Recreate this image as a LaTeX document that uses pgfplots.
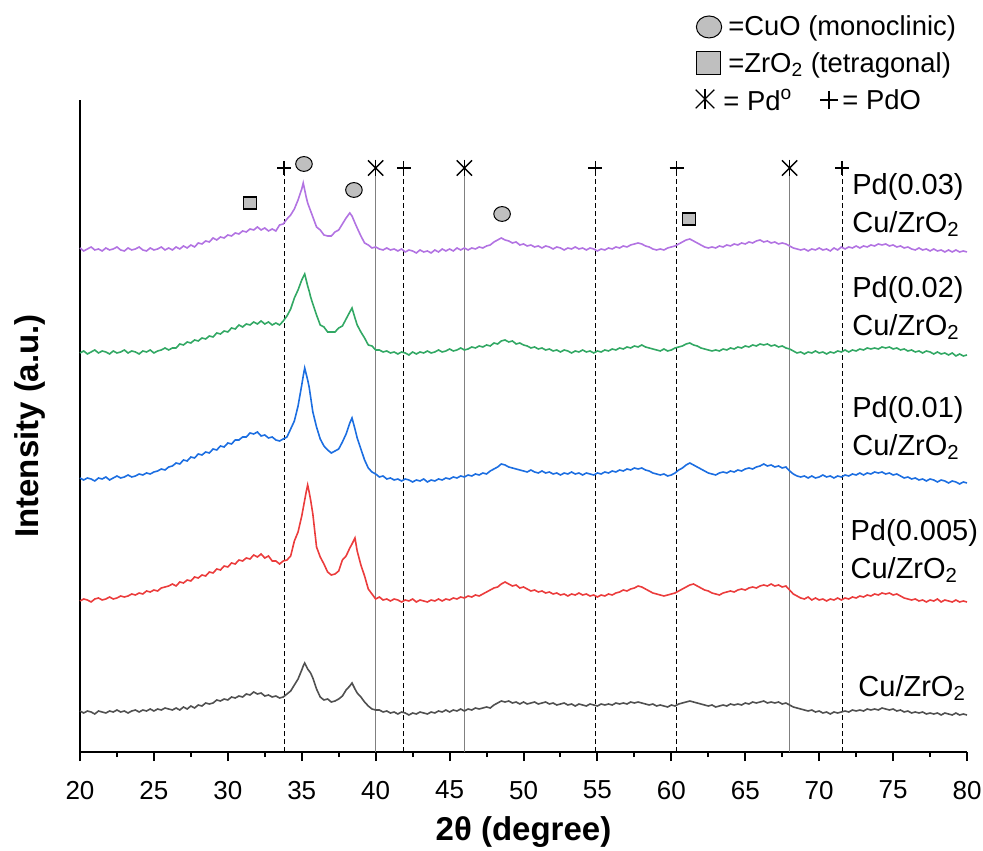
\documentclass[border=0pt]{standalone}
\usepackage{pgfplots}
\usepackage{pgfplotstable}
\pgfplotsset{compat=1.18}
\usepackage{fontspec}
\setmainfont{Liberation Sans}

\definecolor{cpur}{RGB}{178,115,226}
\definecolor{cgrn}{RGB}{50,168,100}
\definecolor{cblu}{RGB}{28,110,225}
\definecolor{cred}{RGB}{235,60,60}
\definecolor{cgry}{RGB}{80,80,80}

% intensities, stacked with offsets
\pgfplotstableread{
x P G B R K
20.00 504 399 274 151 41
20.25 501 401 272 153 39
20.50 503 398 274 152 41
20.75 505 400 273 150 40
21.00 502 402 271 153 38
21.25 503 399 274 154 41
21.50 501 401 273 152 40
21.75 504 400 275 153 39
22.00 502 398 272 155 41
22.25 503 401 274 153 40
22.50 505 399 276 154 42
22.75 502 400 274 156 40
23.00 501 402 275 155 41
23.25 504 399 277 156 39
23.50 502 401 275 158 41
23.75 503 400 276 157 42
24.00 505 398 278 159 40
24.25 502 401 277 158 42
24.50 501 400 279 161 41
24.75 504 402 278 160 43
25.00 502 399 280 162 41
25.25 503 401 281 161 43
25.50 505 402 283 164 42
25.75 502 404 282 165 44
26.00 504 402 285 166 43
26.25 502 404 286 168 42
26.50 505 404 289 166 44
26.75 503 408 288 170 42
27.00 506 407 292 169 45
27.25 504 410 291 172 43
27.50 507 409 295 171 46
27.75 505 412 294 175 44
28.00 509 411 298 174 47
28.25 508 414 297 177 46
28.50 511 413 300 176 49
28.75 510 416 299 180 48
29.00 514 415 303 179 49
29.25 512 419 302 183 52
29.50 515 418 306 182 51
29.75 514 421 305 186 53
30.00 517 420 309 185 52
30.25 516 424 308 189 55
30.50 519 423 312 188 54
30.75 518 427 312 192 56
31.00 521 425 315 191 55
31.25 520 428 315 194 58
31.50 523 427 319 193 57
31.75 522 430 318 197 60
32.00 525 428 320 195 58
32.25 522 431 316 198 59
32.50 524 428 317 194 56
32.75 521 430 314 196 57
33.00 523 427 315 191 55
33.25 521 429 312 191 56
33.50 527 427 311 188 54
33.75 528 431 313 191 55
34.00 533 436 315 192 58
34.25 537 443 323 196 61
34.50 543 454 331 211 67
34.75 552 462 346 220 73
35.00 563 472 367 236 82
35.10 569 475 376 244 86
35.20 562 478 384 252 89
35.30 555 472 378 260 86
35.40 549 466 372 267 83
35.50 545 461 365 260 81
35.60 541 455 355 252 79
35.75 535 448 340 238 74
36.00 525 437 325 205 63
36.25 522 427 313 195 55
36.50 517 425 306 188 52
36.75 516 420 302 180 53
37.00 516 420 299 177 50
37.25 520 420 301 178 51
37.50 522 424 303 181 53
37.75 528 426 310 192 56
38.00 534 433 318 196 62
38.25 539 440 329 204 66
38.40 536 444 334 208 69
38.60 529 434 323 214 63
38.75 524 427 314 201 59
39.00 516 420 303 187 55
39.25 509 414 292 176 50
39.50 507 407 284 163 46
39.75 504 406 280 158 43
40.00 505 402 278 153 42
40.25 503 402 275 155 42
40.50 502 400 276 152 40
40.75 504 401 273 153 41
41.00 502 399 274 151 39
41.25 503 400 272 153 40
41.50 501 398 273 152 38
41.75 503 400 271 150 40
42.00 500 399 273 152 39
42.25 502 397 272 151 37
42.50 501 400 270 153 39
42.75 499 398 272 150 38
43.00 502 400 271 152 40
43.25 500 399 273 151 39
43.50 501 401 270 150 38
43.75 499 399 272 152 40
44.00 502 400 271 151 39
44.25 500 402 273 153 41
44.50 503 400 272 151 40
44.75 501 401 274 153 42
45.00 503 403 273 152 40
45.25 501 401 275 154 42
45.50 504 402 274 153 41
45.75 502 404 276 155 43
46.00 504 402 275 154 41
46.25 502 403 277 156 43
46.50 504 405 276 155 42
46.75 503 404 278 157 44
47.00 505 406 277 156 43
47.25 504 405 279 158 44
47.50 506 407 278 160 45
47.75 507 406 281 162 44
48.00 510 409 283 164 47
48.25 512 408 285 165 49
48.50 514 411 288 168 51
48.75 512 412 287 170 50
49.00 511 410 285 168 51
49.25 509 411 284 166 49
49.50 510 408 283 167 50
49.75 507 409 282 164 48
50.00 508 407 281 165 50
50.25 506 406 280 163 48
50.50 507 404 282 161 49
50.75 505 405 280 162 50
51.00 506 403 279 160 48
51.25 504 404 281 161 49
51.50 506 402 279 159 50
51.75 505 403 280 160 48
52.00 503 401 278 158 49
52.25 505 402 279 159 47
52.50 504 400 277 157 48
52.75 502 402 279 158 49
53.00 504 401 278 156 47
53.25 503 399 280 158 48
53.50 505 401 278 157 46
53.75 503 400 279 159 48
54.00 504 402 277 157 47
54.25 502 400 279 158 46
54.50 504 401 278 156 48
54.75 503 399 277 157 47
55.00 501 401 279 155 46
55.25 503 400 278 157 48
55.50 502 402 280 156 47
55.75 504 401 279 158 48
56.00 503 403 281 157 47
56.25 505 402 280 159 49
56.50 504 404 282 160 48
56.75 506 403 281 162 49
57.00 505 405 283 161 48
57.25 507 404 282 163 50
57.50 508 406 284 164 49
57.75 509 405 283 166 50
58.00 508 407 284 165 49
58.25 506 405 282 163 48
58.50 505 404 281 161 47
58.75 503 403 279 159 48
59.00 502 402 278 158 46
59.25 503 401 277 157 47
59.50 502 403 278 156 46
59.75 504 401 276 157 45
60.00 505 402 277 158 47
60.25 506 404 279 159 46
60.50 508 405 282 161 48
60.75 510 406 284 163 49
61.00 512 408 287 165 50
61.25 513 409 289 167 51
61.50 511 407 287 168 50
61.75 509 406 285 166 49
62.00 507 404 283 164 48
62.25 505 403 281 162 47
62.50 504 402 279 161 46
62.75 505 401 278 159 47
63.00 504 402 277 158 45
63.25 506 401 279 157 46
63.50 505 403 280 159 47
63.75 507 402 279 160 46
64.00 506 404 281 161 48
64.25 508 403 280 160 47
64.50 507 405 282 162 48
64.75 509 404 281 163 47
65.00 508 406 283 162 49
65.25 510 405 284 164 48
65.50 509 407 283 165 50
65.75 511 406 285 164 49
66.00 512 408 286 166 50
66.25 510 407 288 167 51
66.50 511 408 286 166 49
66.75 509 406 287 168 50
67.00 510 407 285 166 49
67.25 508 405 286 167 50
67.50 509 406 284 165 48
67.75 508 404 285 166 49
68.00 506 403 281 162 47
68.25 504 401 278 158 45
68.50 503 399 276 156 44
68.75 502 400 275 154 43
69.00 503 398 276 153 42
69.25 501 400 274 155 41
69.50 503 399 276 152 42
69.75 502 401 274 154 40
70.00 504 399 275 152 41
70.25 502 400 277 153 39
70.50 503 398 275 151 40
70.75 501 400 276 153 38
71.00 504 399 274 152 40
71.25 502 401 276 154 39
71.50 505 400 275 152 40
71.75 503 402 277 154 41
72.00 505 400 276 153 40
72.25 504 402 278 155 42
72.50 506 401 277 154 41
72.75 504 403 279 156 42
73.00 506 402 277 155 41
73.25 505 404 279 157 43
73.50 507 403 278 156 42
73.75 506 404 280 158 43
74.00 508 403 279 157 42
74.25 507 405 280 159 44
74.50 508 404 278 158 43
74.75 506 405 279 159 42
75.00 507 403 277 157 43
75.25 505 404 278 158 41
75.50 506 402 276 156 42
75.75 504 403 274 154 40
76.00 505 401 275 153 41
76.25 503 402 273 152 39
76.50 502 400 274 153 40
76.75 504 401 272 151 39
77.00 502 399 273 152 40
77.25 503 401 271 150 38
77.50 501 400 273 152 39
77.75 503 398 272 151 38
78.00 501 400 270 153 39
78.25 502 398 272 150 37
78.50 500 399 271 152 39
78.75 502 397 269 151 38
79.00 500 399 271 150 37
79.25 502 396 270 152 39
79.50 500 398 268 150 37
79.75 501 396 270 151 38
80.00 500 397 269 150 37
}\xrd

\begin{document}
\begin{tikzpicture}
\begin{axis}[
  scale only axis,
  width=443.5pt, height=326pt,
  xmin=20, xmax=80, ymin=0, ymax=652,
  axis x line=bottom, axis y line=left,
  axis line style={-, line width=1pt},
  xtick={20,25,...,80},
  minor x tick num=1,
  ytick=\empty,
  tick align=outside,
  major tick length=4.5pt, minor tick length=2.5pt,
  every tick/.style={black, line width=1pt},
  tick label style={font=\fontsize{13}{15}\selectfont},
  xticklabel style={yshift=-6.5pt},
  /pgf/number format/assume math mode=true,
  xlabel={\bfseries 2θ (degree)},
  ylabel={\bfseries Intensity (a.u.)},
  label style={font=\fontsize{16.5}{19}\selectfont},
  xlabel style={yshift=-1.5pt},
  ylabel style={yshift=9.5pt},
  clip=false,
]
% reference lines
\addplot[black, line width=0.5pt, dash pattern=on 2.5pt off 1.5pt] coordinates {(33.8,0) (33.8,584)};
\addplot[black, line width=0.5pt, dash pattern=on 2.5pt off 1.5pt] coordinates {(41.9,0) (41.9,584)};
\addplot[black, line width=0.5pt, dash pattern=on 2.5pt off 1.5pt] coordinates {(54.85,0) (54.85,584)};
\addplot[black, line width=0.5pt, dash pattern=on 2.5pt off 1.5pt] coordinates {(60.35,0) (60.35,584)};
\addplot[black, line width=0.5pt, dash pattern=on 2.5pt off 1.5pt] coordinates {(71.55,0) (71.55,584)};
\addplot[gray, line width=0.75pt] coordinates {(40,0) (40,584)};
\addplot[gray, line width=0.75pt] coordinates {(46,0) (46,584)};
\addplot[gray, line width=0.75pt] coordinates {(68,0) (68,584)};

% patterns
\addplot[cgry, line width=0.8pt] table[x=x, y=K] {\xrd};
\addplot[cred, line width=0.8pt] table[x=x, y=R] {\xrd};
\addplot[cblu, line width=0.8pt] table[x=x, y=B] {\xrd};
\addplot[cgrn, line width=0.8pt] table[x=x, y=G] {\xrd};
\addplot[cpur, line width=0.8pt] table[x=x, y=P] {\xrd};

% phase markers
\addplot[only marks, black, mark=+, mark size=3.5pt, mark options={line width=0.6pt}] coordinates {(33.8,584) (41.9,584) (54.85,584) (60.35,584) (71.55,584)};
\addplot[only marks, black, mark=x, mark size=5.4pt, mark options={line width=0.7pt}] coordinates {(40,584) (46,584) (68,584)};
\addplot[only marks, black, mark=|, mark size=4.2pt, mark options={line width=0.7pt}] coordinates {(40,584) (46,584) (68,584)};
\addplot[only marks, mark=*, mark size=3.7pt, mark options={fill=gray!50, draw=black, line width=0.5pt, xscale=1.12}] coordinates {(35.15,588) (38.53,562) (48.55,538)};
\addplot[only marks, mark=square*, mark size=3.4pt, mark options={fill=gray!50, draw=black, line width=0.6pt, yscale=0.88}] coordinates {(31.5,549) (61.2,533)};

% key
\addplot[only marks, mark=*, mark size=5.5pt, mark options={fill=gray!50, draw=black, line width=0.5pt, xscale=1.15}] coordinates {(62.55,725)};
\addplot[only marks, mark=square*, mark size=6pt, mark options={fill=gray!50, draw=black, line width=0.5pt, yscale=0.92}] coordinates {(62.48,689)};
\addplot[only marks, black, mark=x, mark size=6.6pt, mark options={line width=0.6pt}] coordinates {(62.28,653)};
\addplot[only marks, black, mark=|, mark size=5pt, mark options={line width=0.6pt}] coordinates {(62.28,653)};
\addplot[only marks, black, mark=+, mark size=4.5pt, mark options={line width=0.6pt}] coordinates {(70.67,652)};
\node[anchor=west, inner sep=0pt, font=\fontsize{13.7}{16}\selectfont] at (axis cs:63.83,724) {=CuO (monoclinic)};
\node[anchor=west, inner sep=0pt, font=\fontsize{13.7}{16}\selectfont] at (axis cs:63.83,687) {=ZrO\textsubscript{2} (tetragonal)};
\node[anchor=west, inner sep=0pt, font=\fontsize{13.7}{16}\selectfont] at (axis cs:63.5,652) {= Pd\textsuperscript{o}};
\node[anchor=west, inner sep=0pt, font=\fontsize{13.7}{16}\selectfont] at (axis cs:71.55,652) {= PdO};

% sample names
\node[anchor=west, align=left, inner sep=0pt, font=\fontsize{14.5}{19}\selectfont] at (axis cs:72.22,547) {Pd(0.03)\\Cu/ZrO\textsubscript{2}};
\node[anchor=west, align=left, inner sep=0pt, font=\fontsize{14.5}{19}\selectfont] at (axis cs:72.22,444) {Pd(0.02)\\Cu/ZrO\textsubscript{2}};
\node[anchor=west, align=left, inner sep=0pt, font=\fontsize{14.5}{19}\selectfont] at (axis cs:72.22,324) {Pd(0.01)\\Cu/ZrO\textsubscript{2}};
\node[anchor=west, align=left, inner sep=0pt, font=\fontsize{14.5}{19}\selectfont] at (axis cs:72.1,201) {Pd(0.005)\\Cu/ZrO\textsubscript{2}};
\node[anchor=west, inner sep=0pt, font=\fontsize{14.5}{19}\selectfont] at (axis cs:72.63,64) {Cu/ZrO\textsubscript{2}};
\end{axis}
\pgfresetboundingbox
\path[use as bounding box] (-40pt,-49pt) rectangle (451.5pt,376pt);
\end{tikzpicture}
\end{document}
